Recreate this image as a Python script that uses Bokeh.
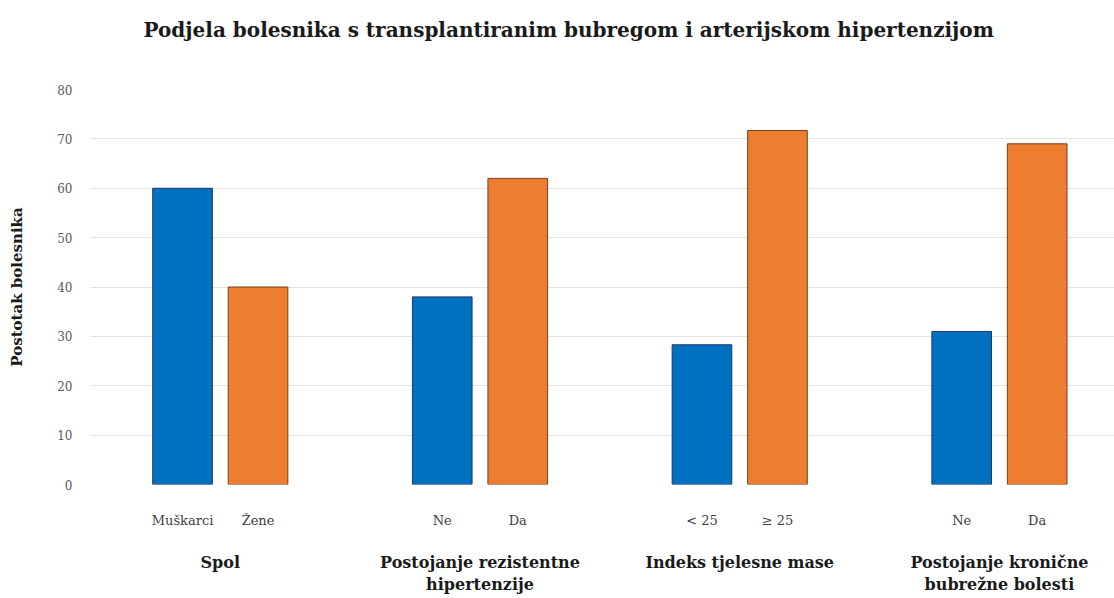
from bokeh.plotting import figure
from bokeh.models import Range1d, FixedTicker, LinearAxis, ColumnDataSource
from bokeh.embed import file_html
from bokeh.resources import INLINE

# ---- data ----
groups = ["Spol", "Postojanje rezistentne\nhipertenzije", "Indeks tjelesne mase",
          "Postojanje kronične\nbubrežne bolesti"]
first_labels = ["Muškarci", "Ne", "< 25", "Ne"]
second_labels = ["Žene", "Da", "≥ 25", "Da"]
first_values = [60, 38, 28.3, 31]
second_values = [40, 62, 71.7, 69]
y_ticks = [0, 10, 20, 30, 40, 50, 60, 70, 80]
title_text = "Podjela bolesnika s transplantiranim bubregom i arterijskom hipertenzijom"
y_label = "Postotak bolesnika"

# ---- layout helpers ----
GROUP_STEP = 3.44
HALF = 0.5
n = len(groups)
group_x = [i * GROUP_STEP for i in range(n)]
first_x = [g - HALF for g in group_x]
second_x = [g + HALF for g in group_x]

SERIF = "DejaVu Serif"

p = figure(frame_width=1024, frame_height=395, output_backend="svg", toolbar_location=None,
           x_range=Range1d(-1.719, 11.844), y_range=Range1d(0, 80),
           min_border_left=90, min_border_right=0, min_border_top=89,
           min_border_bottom=93, x_axis_location=None)

# two empty trailing lines keep the title higher above the plot area
p.title.text = title_text + "\n\n"
p.title.text_font = SERIF
p.title.text_font_size = "20px"
p.title.text_font_style = "bold"
p.title.text_color = "#1a1a1a"
p.title.align = "left"
p.title.offset = 53
p.title.standoff = 0

p.outline_line_color = None
p.xgrid.visible = False
p.ygrid.grid_line_color = "#e3e3e3"
p.ygrid.ticker = FixedTicker(ticks=y_ticks)

ya = p.yaxis[0]
ya.ticker = FixedTicker(ticks=y_ticks)
ya.axis_line_color = None
ya.major_tick_line_color = None
ya.minor_tick_line_color = None
ya.major_label_text_font = SERIF
ya.major_label_text_font_size = "12px"
ya.major_label_text_color = "#595959"
ya.major_label_standoff = 12
ya.axis_label = y_label
ya.axis_label_text_font = SERIF
ya.axis_label_text_font_size = "15px"
ya.axis_label_text_font_style = "bold"
ya.axis_label_text_color = "#1a1a1a"
ya.axis_label_standoff = 28

src1 = ColumnDataSource(dict(x=first_x, top=first_values))
src2 = ColumnDataSource(dict(x=second_x, top=second_values))
p.vbar(x="x", top="top", width=0.79, source=src1, fill_color="#0070C0",
       line_color="#1F3864", line_width=1)
p.vbar(x="x", top="top", width=0.79, source=src2, fill_color="#ED7D31",
       line_color="#7A3E12", line_width=1)

# sub-category labels
sub_ticks = first_x + second_x
sub_labels = first_labels + second_labels
ax1 = LinearAxis(ticker=FixedTicker(ticks=sub_ticks),
                 major_label_overrides={t: l for t, l in zip(sub_ticks, sub_labels)})
ax1.axis_line_color = None
ax1.major_tick_line_color = None
ax1.minor_tick_line_color = None
ax1.major_label_text_font = SERIF
ax1.major_label_text_font_size = "13px"
ax1.major_label_text_color = "#404040"
ax1.major_label_standoff = 22
p.add_layout(ax1, "below")

# group labels
ax2 = LinearAxis(ticker=FixedTicker(ticks=group_x),
                 major_label_overrides={t: l for t, l in zip(group_x, groups)})
ax2.axis_line_color = None
ax2.major_tick_line_color = None
ax2.minor_tick_line_color = None
ax2.major_label_text_font = SERIF
ax2.major_label_text_font_size = "16px"
ax2.major_label_text_font_style = "bold"
ax2.major_label_text_color = "#1a1a1a"
ax2.major_label_standoff = 16
p.add_layout(ax2, "below")

open("out.html", "w").write(file_html(p, INLINE))
